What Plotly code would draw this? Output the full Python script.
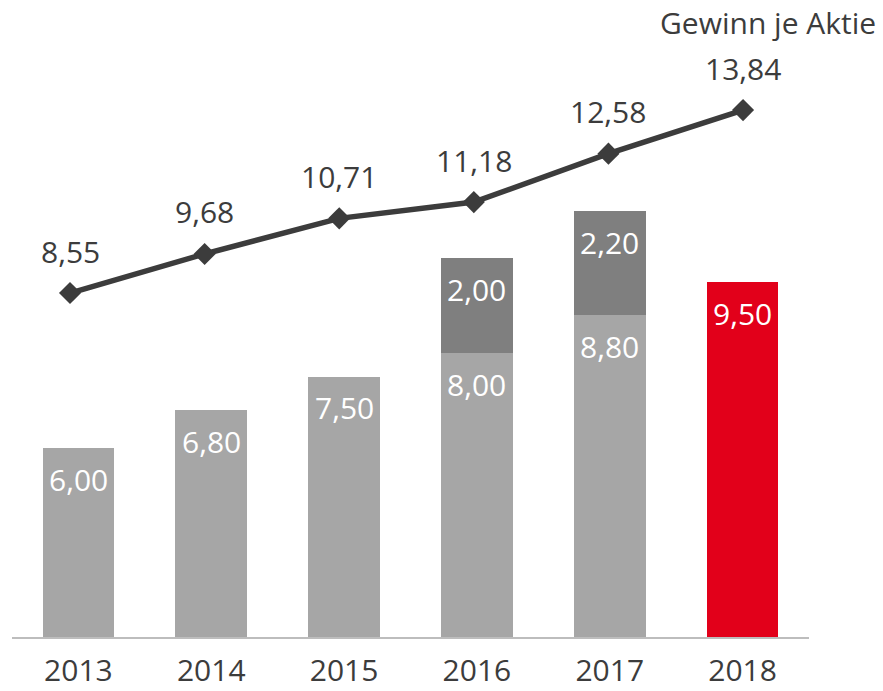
import plotly.graph_objects as go

years = ["2013", "2014", "2015", "2016", "2017", "2018"]
dividend_base = [6.00, 6.80, 7.50, 8.00, 8.80, 9.50]
dividend_extra = [0, 0, 0, 2.00, 2.20, 0]
eps = [8.55, 9.68, 10.71, 11.18, 12.58, 13.84]
base_colors = ["#a6a6a6"] * 5 + ["#e2001a"]
line_title = "Gewinn je Aktie"

FONT = "Open Sans"
DARK = "#3c3c3c"
FS = 30

def fmt(v):
    return f"{v:.2f}".replace(".", ",")

fig = go.Figure()
fig.add_trace(go.Bar(x=years, y=dividend_base, marker=dict(color=base_colors, line=dict(width=0)),
                     hoverinfo="skip", showlegend=False))
fig.add_trace(go.Bar(x=years, y=dividend_extra, marker=dict(color="#7f7f7f", line=dict(width=0)),
                     hoverinfo="skip", showlegend=False))
fig.add_trace(go.Scatter(x=years, y=eps, xaxis="x2", yaxis="y2", mode="lines+markers",
                         line=dict(color=DARK, width=5.5),
                         marker=dict(symbol="diamond", size=17, color=DARK),
                         hoverinfo="skip", showlegend=False))

L, R, T, B = 12, 74, 60, 54
W, H = 883, 691

# annotations on a category axis are positioned by category index
for i, (b, e) in enumerate(zip(dividend_base, dividend_extra)):
    fig.add_annotation(x=i, y=b, xref="x", yref="y", text=fmt(b), showarrow=False,
                       yanchor="middle", yshift=-31, font=dict(family=FONT, size=FS, color="white"))
    if e:
        fig.add_annotation(x=i, y=b + e, xref="x", yref="y", text=fmt(e), showarrow=False,
                           yanchor="middle", yshift=-31, font=dict(family=FONT, size=FS, color="white"))
for i, v in enumerate(eps):
    fig.add_annotation(x=i, y=v, xref="x2", yref="y2", text=fmt(v), showarrow=False,
                       yanchor="middle", yshift=42, font=dict(family=FONT, size=FS, color=DARK))

fig.add_annotation(text=line_title, xref="paper", yref="paper",
                   x=(878 - L) / (W - L - R), y=1 + (T - 22) / (H - T - B),
                   xanchor="right", yanchor="middle", showarrow=False,
                   font=dict(family=FONT, size=FS, color=DARK))

fig.update_layout(
    width=W, height=H,
    margin=dict(l=L, r=R, t=T, b=B, autoexpand=False),
    paper_bgcolor="white", plot_bgcolor="white",
    barmode="stack", bargap=0.46,
    font=dict(family=FONT, color=DARK),
    hovermode=False,
    xaxis=dict(type="category", categoryarray=years, range=[-0.5, len(years) - 0.5],
               showgrid=False, showline=True, linecolor="#bdbdbd", linewidth=2,
               tickfont=dict(family=FONT, size=FS, color=DARK), ticks="", ticklabelstandoff=6,
               automargin=False, fixedrange=True),
    xaxis2=dict(type="category", categoryarray=years, range=[-0.431, 5.490], overlaying="x",
                visible=False, showgrid=False, fixedrange=True),
    yaxis=dict(range=[2.013, 14.186], visible=False, showgrid=False, fixedrange=True),
    yaxis2=dict(range=[-1.393, 15.288], overlaying="y", visible=False, showgrid=False, fixedrange=True),
)

fig.write_html("out.html", config={"displayModeBar": False, "staticPlot": True},
               post_script="document.body.style.margin='0';")
